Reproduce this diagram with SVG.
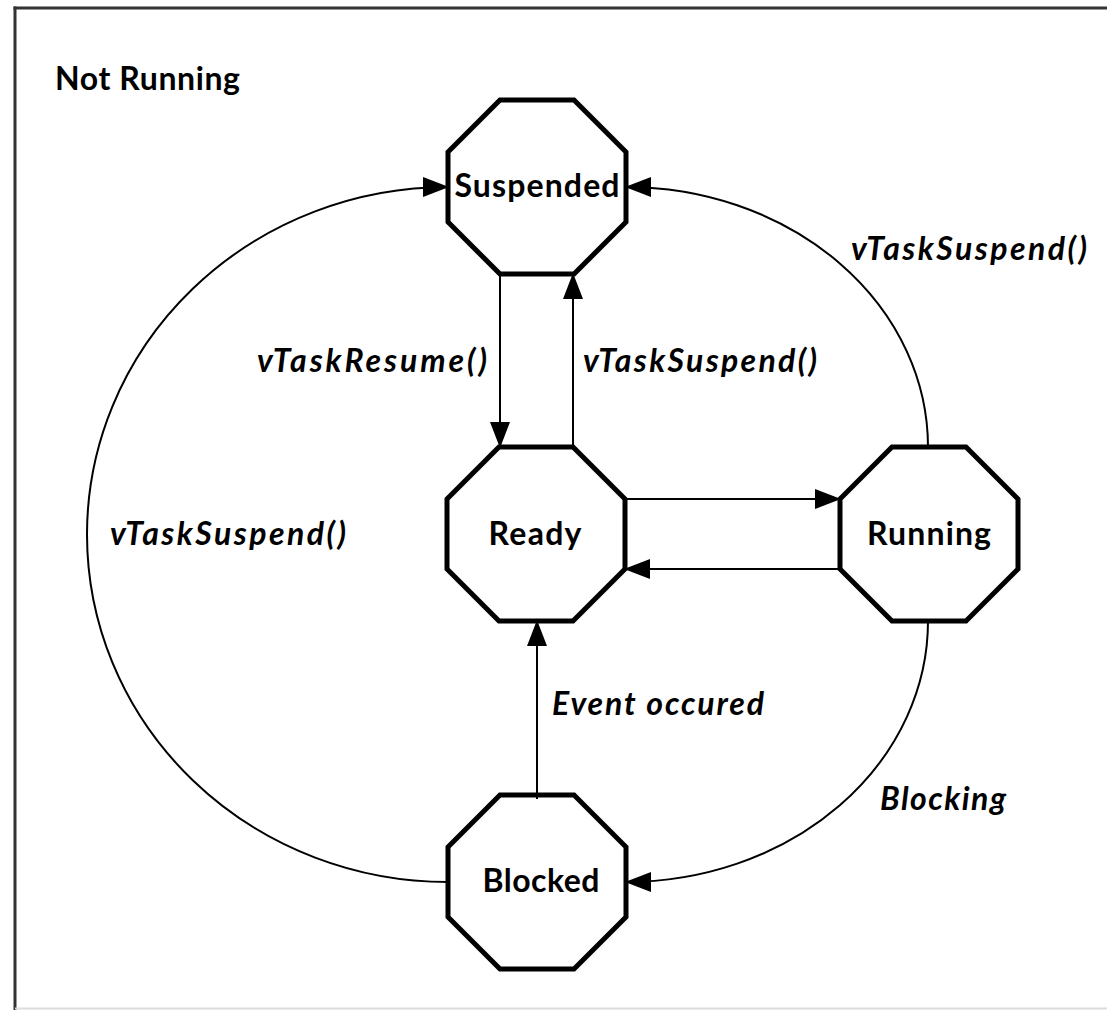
<svg xmlns="http://www.w3.org/2000/svg" width="1107" height="1010" viewBox="0 0 1107 1010">
<defs>
<marker id="arr" markerUnits="userSpaceOnUse" markerWidth="26" markerHeight="20" refX="25" refY="10" orient="auto" viewBox="0 0 26 20"><path d="M0,0 L26,10 L0,20 z" fill="#000"/></marker>
</defs>
<style>
.node{fill:#fff;stroke:#000;stroke-width:5;stroke-linejoin:miter}
.nl{font-family:Lato,"Liberation Sans",sans-serif;font-weight:bold;font-size:32px;text-anchor:middle;fill:#000}
.el{font-family:Lato,"Liberation Sans",sans-serif;font-weight:bold;font-style:italic;font-size:32px;fill:#000}
.c{fill:none;stroke:#000;stroke-width:2;marker-end:url(#arr)}
.frame{stroke:#333;stroke-width:3;fill:none}
</style>
<rect x="0" y="0" width="1107" height="1010" fill="#fff"/>
<g id="frame">
<line class="frame" x1="13.5" y1="8" x2="1107" y2="8"/>
<line class="frame" x1="15" y1="6.5" x2="15" y2="1010"/>
<line x1="15" y1="1008.5" x2="1107" y2="1008.5" stroke="#dcdcdc" stroke-width="2"/>
<text class="nl" x="55" y="90" style="text-anchor:start" textLength="185">Not Running</text>
</g>
<g id="node-suspended">
<polygon class="node" points="500,100 574,100 626,152 626,222 574,274 500,274 448,222 448,152"/>
<text class="nl" x="537" y="197" textLength="165">Suspended</text>
</g>
<g id="node-ready">
<polygon class="node" points="499,447 573,447 625,499 625,569 573,621 499,621 447,569 447,499"/>
<text class="nl" x="535" y="545" textLength="93">Ready</text>
</g>
<g id="node-running">
<polygon class="node" points="892,447 966,447 1018,499 1018,569 966,621 892,621 840,569 840,499"/>
<text class="nl" x="929" y="545" textLength="124">Running</text>
</g>
<g id="node-blocked">
<polygon class="node" points="500,795 574,795 626,847 626,917 574,969 500,969 448,917 448,847"/>
<text class="nl" x="541" y="892" textLength="117">Blocked</text>
</g>
<g id="connectors">
<path class="c" d="M500,274 L500,447"/>
<path class="c" d="M573,447 L573,274"/>
<path class="c" d="M625,499 L840,499"/>
<path class="c" d="M840,569 L625,569"/>
<path class="c" d="M537,799 L537,621"/>
<path class="c" d="M448,882 A361,347.5 0 0 1 448,187"/>
<path class="c" d="M928,447 A302,260 0 0 0 626,187"/>
<path class="c" d="M928,621 A302,261 0 0 1 626,882"/>
</g>
<g id="labels">
<text class="el" x="257" y="372" textLength="230">vTaskResume()</text>
<text class="el" x="583" y="372" textLength="234">vTaskSuspend()</text>
<text class="el" x="851" y="260" textLength="236">vTaskSuspend()</text>
<text class="el" x="110" y="545" textLength="236">vTaskSuspend()</text>
<text class="el" x="552" y="715" textLength="212">Event occured</text>
<text class="el" x="880" y="810" textLength="126">Blocking</text>
</g>
</svg>
